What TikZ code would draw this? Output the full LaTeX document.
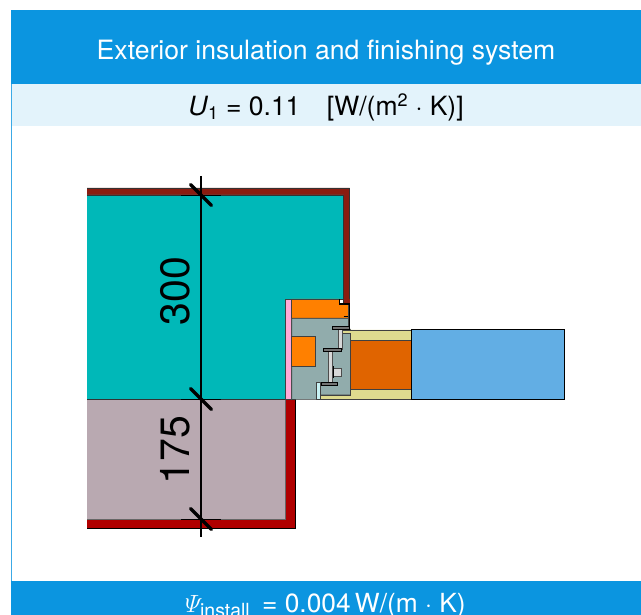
\documentclass[tikz,border=0pt]{standalone}
\usepackage{fontspec}
\setmainfont{TeX Gyre Heros}
\definecolor{hdr}{HTML}{0B95E0}
\definecolor{lite}{HTML}{E3F3FB}
\definecolor{brick}{HTML}{8A1C10}
\definecolor{redw}{HTML}{B00000}
\definecolor{tealw}{HTML}{00B8B8}
\definecolor{mauve}{HTML}{B9A9B1}
\definecolor{pinkw}{HTML}{FFA9D6}
\definecolor{orng}{HTML}{FF8000}
\definecolor{frm}{HTML}{91ACAC}
\definecolor{sand}{HTML}{DFDB8F}
\definecolor{glass}{HTML}{E06400}
\definecolor{sky}{HTML}{62AEE4}
\definecolor{alu}{HTML}{D8D8D8}
\definecolor{icy}{HTML}{C8F2F4}
\tikzset{
  part/.style={draw=black!75,line width=0.6pt},
  thin part/.style={draw=black,line width=0.5pt},
  tick/.style={line width=3.4pt,line cap=round},
  dimline/.style={line width=1.1pt},
  bracket/.style={fill=black!55,draw=black,line width=0.8pt},
  bar/.style={fill=alu,draw=black!70,line width=0.6pt},
  dimtext/.style={font=\fontsize{41}{41}\selectfont,rotate=90,inner sep=0pt},
}
\begin{document}
\begin{tikzpicture}[x=1pt,y=-1pt]
\useasboundingbox (0,0) rectangle (641,615);
\begin{scope}
\clip (0,0) rectangle (641,615);
% frame and bands
\fill[hdr!80] (11,84) rectangle (12.2,581);
\fill[hdr] (11,10) rectangle (641,84);
\fill[lite] (12.2,84) rectangle (641,126);
\fill[hdr] (11,581) rectangle (641,615);
\node[text=white,font=\fontsize{26.6}{26.6}\selectfont,inner sep=0pt] (title) at (326,52.5) {Exterior insulation and finishing system};
\node[font=\fontsize{26.5}{26.5}\selectfont,inner sep=0pt] (uval) at (326,107) {\textit{U}$_{\textrm{\fontsize{18}{18}\selectfont 1}}$ = 0.11\quad [W/(m$^{\textrm{\fontsize{18}{18}\selectfont 2}}$ $\cdot$ K)]};
\node[text=white,font=\fontsize{26.3}{26.3}\selectfont,inner sep=0pt,anchor=base west] (psi) at (185,612) {$\mathnormal{\Psi}_{\textrm{\fontsize{19.5}{19.5}\selectfont install}}$\hspace{0.45em}= 0.004\,W/(m $\cdot$ K)};
% wall upper
\fill[brick,draw=black!80,line width=0.5pt] (87,188) -- (349.5,188) -- (349.5,303.5) -- (343.5,303.5) -- (343.5,195) -- (87,195);
\fill[tealw] (87,195) -- (343.5,195) -- (343.5,299) -- (285.3,299) -- (285.3,399) -- (87,399) -- cycle;
\draw[black!80,line width=0.5pt] (87,195) -- (343.5,195) -- (343.5,299) -- (285.3,299) -- (285.3,399);
\draw[black!80,line width=0.6pt] (87,399) -- (285.3,399);
% wall lower
\fill[mauve] (87,399.5) rectangle (285.3,519);
\fill[redw,draw=black,line width=0.6pt] (87,519) -- (285.3,519) -- (285.3,399.5) -- (295,399.5) -- (295,528.5) -- (87,528.5);
\draw[black!60,line width=0.6pt] (87,519) -- (285.3,519) -- (285.3,399.5);
% frame parts
\filldraw[part,fill=pinkw] (285.3,299) rectangle (291.7,399.3);
\filldraw[part,fill=orng] (291.7,299) -- (339.5,299) -- (339.5,304) -- (348.5,304) -- (348.5,318.3) -- (291.7,318.3) -- cycle;
\fill[brick] (343.5,299) rectangle (349.5,303.5);
\filldraw[part,fill=frm] (291.7,318.3) -- (348.5,318.3) -- (348.5,327) -- (350.7,330) -- (350.7,395) -- (320,395) -- (320,399.3) -- (291.7,399.3) -- cycle;
\filldraw[part,fill=orng] (291.7,336) -- (315,336) -- (315,366.3) -- (291.7,366.3) -- cycle;
\filldraw[part,fill=icy] (316.7,382) -- (320,382) -- (320,399.3) -- (316.7,399.3) -- cycle;
% glazing
\filldraw[part,fill=sand] (341.7,330) -- (411.7,330) -- (411.7,340) -- (350.7,340) -- (350.7,333) -- (341.7,333) -- cycle;
\filldraw[part,fill=sand] (320,395) -- (350.7,395) -- (350.7,389.3) -- (411.7,389.3) -- (411.7,399.3) -- (320,399.3) -- cycle;
\filldraw[part,fill=glass] (350.7,340) rectangle (411.7,389.3);
\filldraw[thin part,fill=sky] (411.7,329.7) rectangle (564.7,399.3);
% hardware
\draw[black,line width=1.4pt] (339.5,299) -- (339.5,304) -- (349.7,304) -- (349.7,328);
\draw[black,line width=1.2pt] (343.5,316.5) -- (347.5,316.5);
\filldraw[bar] (338.3,329.7) rectangle (342,349);
\filldraw[bar] (328.3,351.7) rectangle (332.7,382.3);
\filldraw[bracket] (332.5,326.8) rectangle (349.5,329.5);
\filldraw[bracket] (323.5,348.5) rectangle (341.5,351.2);
\filldraw[bracket] (321,382.7) rectangle (337.5,385.7);
\filldraw[bar] (333.5,368) rectangle (341.5,376.5);
\draw[black,line width=1pt] (333.5,366.5) -- (333.5,378);
% dimensions
\draw[dimline] (201,176) -- (201,537);
\foreach \yy in {195,399,519}{
  \draw[black,line width=0.6pt] (181,\yy) -- (221,\yy);
  \draw[tick] (190.5,\yy-10.5) -- (211.5,\yy+10.5);
}
\node[dimtext] (d300) at (175,291) {300};
\node[dimtext] (d175) at (175,450) {175};
\end{scope}
\end{tikzpicture}
\end{document}
